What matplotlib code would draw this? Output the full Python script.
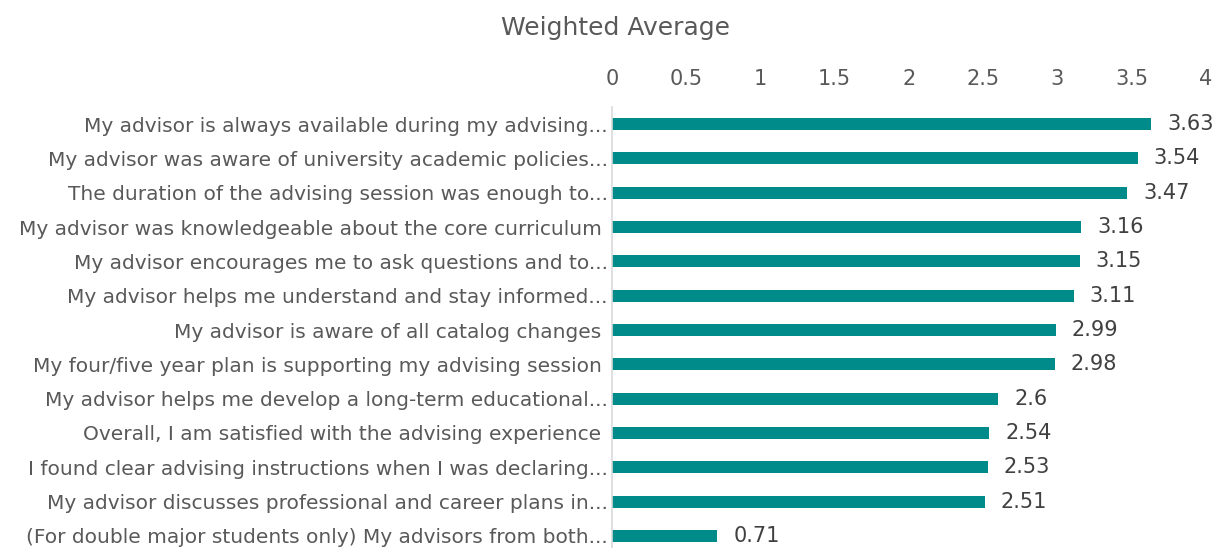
import matplotlib
matplotlib.use("Agg")
import matplotlib.pyplot as plt

plt.rcParams['font.family'] = ['DejaVu Sans']

labels = [
    "My advisor is always available during my advising...",
    "My advisor was aware of university academic policies...",
    "The duration of the advising session was enough to...",
    "My advisor was knowledgeable about the core curriculum ",
    "My advisor encourages me to ask questions and to...",
    "My advisor helps me understand and stay informed...",
    "My advisor is aware of all catalog changes ",
    "My four/five year plan is supporting my advising session ",
    "My advisor helps me develop a long-term educational...",
    "Overall, I am satisfied with the advising experience ",
    "I found clear advising instructions when I was declaring...",
    "My advisor discusses professional and career plans in...",
    "(For double major students only) My advisors from both...",
]
values = [3.63, 3.54, 3.47, 3.16, 3.15, 3.11, 2.99, 2.98, 2.6, 2.54, 2.53, 2.51, 0.71]
ticks = [0, 0.5, 1, 1.5, 2, 2.5, 3, 3.5, 4]
tick_labels = ["0", "0.5", "1", "1.5", "2", "2.5", "3", "3.5", "4"]

fig = plt.figure(figsize=(12.22, 5.48), dpi=100)
ax = fig.add_axes([612/1222, -5/548, 594/1222, 446/548])

pos = list(range(len(labels)))
ax.barh(pos, values, height=0.35, color="#008B8B")
for p, v in zip(pos, values):
    ax.annotate(f"{v:g}", (v, p), xytext=(11.5, 0), textcoords="offset points",
                va="center", ha="left", fontsize=15, color="#404040")

ax.set_xlim(0, 4)
ax.set_ylim(len(labels) - 0.5, -0.5)
ax.set_yticks(pos)
ax.set_yticklabels(labels, fontsize=14.5, color="#595959")
ax.set_xticks(ticks)
ax.set_xticklabels(tick_labels, fontsize=15, color="#595959")
ax.xaxis.tick_top()
ax.tick_params(axis="both", length=0)
ax.tick_params(axis="x", pad=13)
ax.tick_params(axis="y", pad=3)
for s in ["top", "right", "bottom"]:
    ax.spines[s].set_visible(False)
ax.spines["left"].set_color("#d9d9d9")
ax.spines["left"].set_linewidth(1.2)

fig.text(615/1222, 1 - 28/548, "Weighted Average", ha="center", va="center", fontsize=18, color="#595959")

fig.savefig("out.png", dpi=100)
